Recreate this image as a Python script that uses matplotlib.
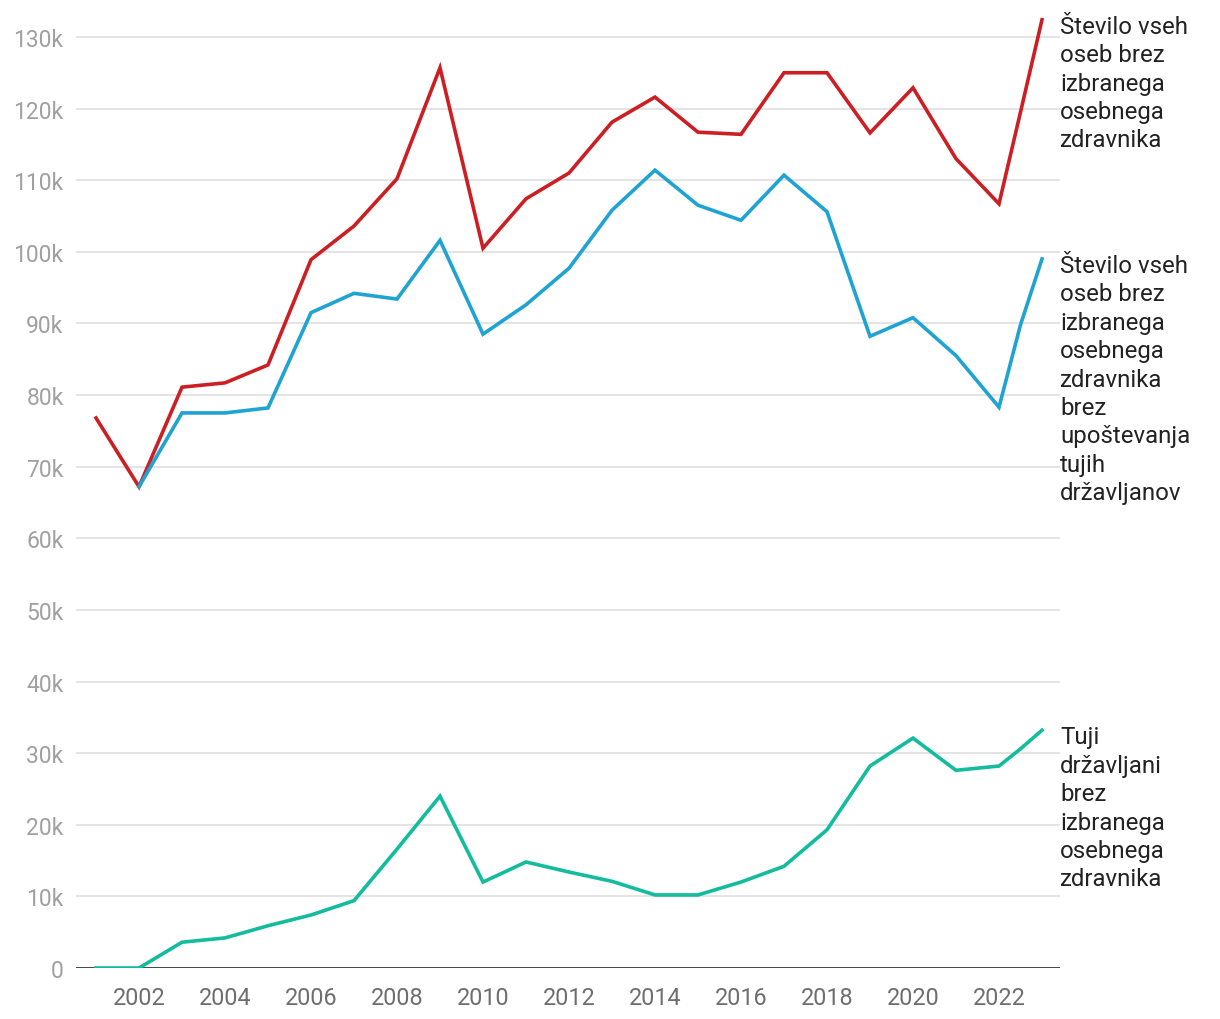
import matplotlib.pyplot as plt

plt.rcParams['font.family'] = ['Roboto', 'DejaVu Sans']

# data (thousands of people)
years = [2001, 2002, 2003, 2004, 2005, 2006, 2007, 2008, 2009, 2010, 2011, 2012,
         2013, 2014, 2015, 2016, 2017, 2018, 2019, 2020, 2021, 2022, 2022.5, 2023]
vsi = [76.8, 67.2, 81.1, 81.7, 84.2, 98.9, 103.6, 110.2, 125.7, 100.5, 107.4, 111.0,
       118.1, 121.6, 116.7, 116.4, 125.0, 125.0, 116.6, 122.9, 113.0, 106.7, 119.5, 132.4]
brez_tujih = [None, 67.2, 77.5, 77.5, 78.2, 91.5, 94.2, 93.4, 101.6, 88.5, 92.6, 97.7,
              105.8, 111.4, 106.5, 104.4, 110.7, 105.6, 88.2, 90.8, 85.5, 78.3, 89.8, 99.0]
tujci = [0, 0, 3.6, 4.2, 5.9, 7.4, 9.4, 16.6, 24.0, 12.0, 14.8, 13.4,
         12.1, 10.2, 10.2, 12.0, 14.2, 19.3, 28.2, 32.1, 27.6, 28.2, 30.6, 33.2]

labels = ['Število vseh\noseb brez\nizbranega\nosebnega\nzdravnika',
          'Število vseh\noseb brez\nizbranega\nosebnega\nzdravnika\nbrez\nupoštevanja\ntujih\ndržavljanov',
          'Tuji\ndržavljani\nbrez\nizbranega\nosebnega\nzdravnika']
colors = ['#cc1f24', '#1ea3d3', '#12bc9c']

fig = plt.figure(figsize=(12.2, 10.2), dpi=100)
ax = fig.add_axes([0.0623, 0.05, 0.8066, 0.9409])

for series, col, lab in zip([vsi, brez_tujih, tujci], colors, labels):
    xs = [x for x, v in zip(years, series) if v is not None]
    ys = [v * 1000 for v in series if v is not None]
    ax.plot(xs, ys, color=col, lw=2.6, solid_joinstyle='miter', zorder=3)
    ax.annotate(lab, (xs[-1], ys[-1]), xytext=(13, 3.5), textcoords='offset points',
                ha='left', va='top', fontsize=17.3, color='#222222', linespacing=1.3,
                annotation_clip=False)

ax.set_xlim(2000.535, 2023.42)
ax.set_ylim(0, 134000)
ax.set_yticks(range(0, 130001, 10000))
ax.set_yticklabels(['0'] + [f'{v}k' for v in range(10, 131, 10)])
ax.set_xticks(range(2002, 2023, 2))
ax.grid(axis='y', color='#e2e2e2', lw=1.3)
ax.set_axisbelow(True)
for s in ax.spines.values():
    s.set_visible(False)
ax.axhline(0, color='#1a1a1a', lw=1.8, zorder=2)
ax.tick_params(axis='both', length=0)
ax.tick_params(axis='y', colors='#a0a0a0', pad=9, labelsize=16.5)
ax.tick_params(axis='x', colors='#6e6e6e', pad=13, labelsize=16.8)

fig.savefig('out.png', dpi=100)
